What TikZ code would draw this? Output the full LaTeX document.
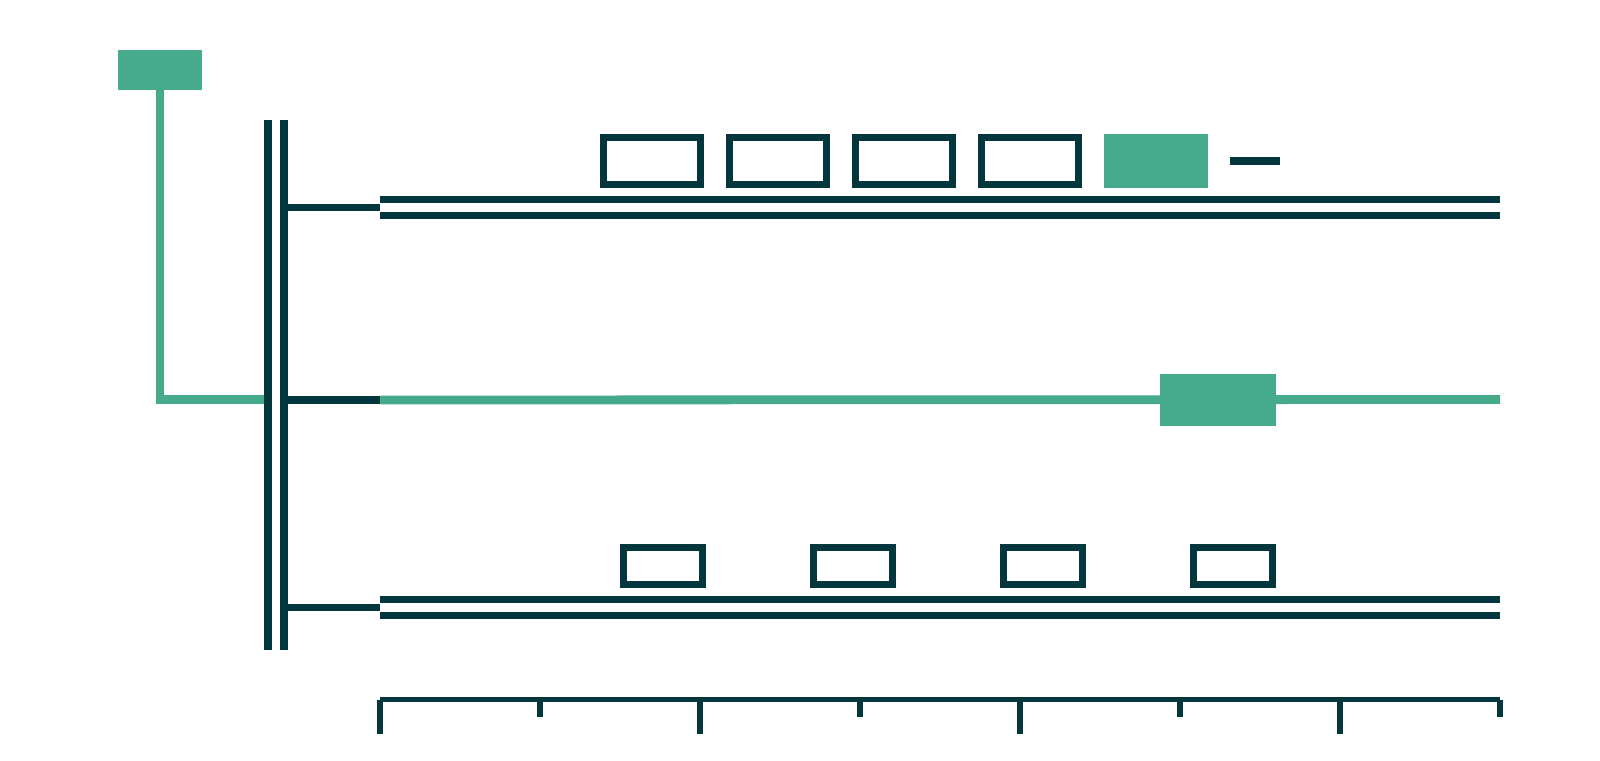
\documentclass[tikz,border=0pt]{standalone}
\usepackage{xcolor}

\definecolor{kale}{HTML}{03363D}
\definecolor{mint}{HTML}{45AB8C}

\tikzset{
    rail/.style={draw=kale, line width=3.65pt},
    feed/.style={draw=mint, line width=4.4pt},
    slotbox/.style={draw=kale, fill=white, line width=3.35pt, inner sep=0pt,
        minimum width=48.65pt, minimum height=23.65pt},
    smallbox/.style={draw=kale, fill=white, line width=3.35pt, inner sep=0pt,
        minimum width=39.65pt, minimum height=18.65pt},
    mintbox/.style={fill=mint, inner sep=0pt},
    scale line/.style={draw=kale, line width=2.65pt}
}

\begin{document}
\begin{tikzpicture}[x=0.5pt, y=-0.5pt]
    \useasboundingbox[fill=white] (0,0) rectangle (1600,760);

    % source and feed
    \node[mintbox, minimum width=42pt, minimum height=20pt] (source) at (160,70) {};
    \coordinate (busL) at (268,120);
    \coordinate (busR) at (284,120);
    \draw[feed, line join=miter] (source.south) |- (268,399.5) coordinate (feedEnd);

    % bus bars
    \draw[rail] (busL) -- (268,650);
    \draw[rail] (busR) -- (284,650);

    % branches
    \foreach \y/\n in {207.5/top, 400/mid, 607.5/low} {
        \coordinate (\n Start) at (284,\y);
        \coordinate (\n End) at (380,\y);
        \draw[rail] (\n Start) -- (\n End);
    }

    % double tracks
    \foreach \y in {199.5, 215.5, 599.5, 615.5}
        \draw[rail] (380,\y) -- (1500,\y);
    \draw[feed] (midEnd) -- (1500,399.5);

    % top row
    \foreach \x [count=\i] in {652, 778, 904, 1030}
        \node[slotbox] (t\i) at (\x,161) {};
    \node[mintbox, minimum width=52pt, minimum height=27pt] (t5) at (1156,161) {};
    \coordinate (dashL) at (1230,161);
    \coordinate (dashR) at (1280,161);
    \draw[rail] (dashL) -- (dashR);

    % middle block
    \node[mintbox, minimum width=58pt, minimum height=26pt] (m1) at (1218,400) {};

    % bottom row
    \foreach \x [count=\i] in {663, 853, 1043, 1233}
        \node[smallbox] (b\i) at (\x,566) {};

    % scale
    \draw[scale line] (380,699.5) -- (1500,699.5);
    \foreach \x in {380, 700, 1020, 1340}
        \draw[scale line] (\x,699.5) -- (\x,733.5);
    \foreach \x in {540, 860, 1180, 1500}
        \draw[scale line] (\x,699.5) -- (\x,717);
\end{tikzpicture}
\end{document}
